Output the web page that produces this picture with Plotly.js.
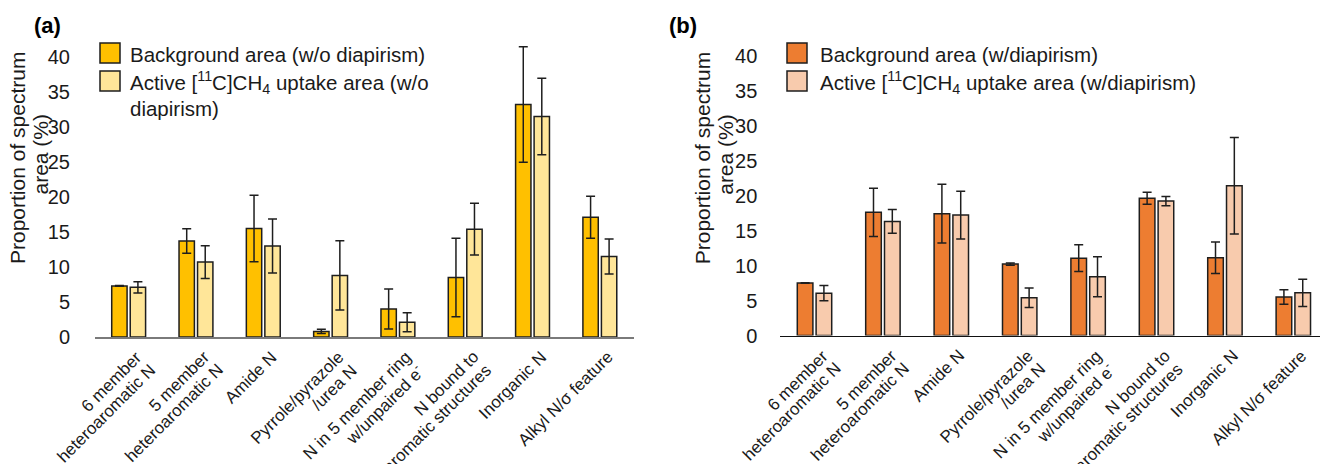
<!DOCTYPE html>
<html>
<head>
<meta charset="utf-8">
<script src="https://cdn.plot.ly/plotly-3.0.1.min.js"></script>
<style>html,body{margin:0;padding:0;background:#fff;}#chart{width:1320px;height:464px;}</style>
</head>
<body>
<div id="chart"></div>
<script>
// ---- data ----
const categories = [
  "6 member<br>heteroaromatic N",
  "5 member<br>heteroaromatic N",
  "Amide N",
  "Pyrrole/pyrazole<br>/urea N",
  "N in 5 member ring<br>w/unpaired e<sup>-</sup>",
  "N bound to<br>aromatic structures",
  "Inorganic N",
  "Alkyl N/σ feature"
];
const yTickVals = [0, 5, 10, 15, 20, 25, 30, 35, 40];

const aBackground    = [7.3, 13.7, 15.5, 0.8, 4.0, 8.5, 33.2, 17.1];
const aBackgroundErr = [0.05, 1.75, 4.75, 0.3, 2.85, 5.6, 8.25, 3.0];
const aActive        = [7.1, 10.7, 13.0, 8.8, 2.1, 15.4, 31.5, 11.5];
const aActiveErr     = [0.8, 2.35, 3.85, 4.95, 1.35, 3.7, 5.45, 2.5];

const bBackground    = [7.5, 17.6, 17.4, 10.2, 11.05, 19.6, 11.1, 5.5];
const bBackgroundErr = [0.05, 3.45, 4.2, 0.15, 1.9, 0.85, 2.25, 1.05];
const bActive        = [6.05, 16.3, 17.2, 5.4, 8.4, 19.2, 21.4, 6.1];
const bActiveErr     = [1.1, 1.7, 3.4, 1.4, 2.85, 0.65, 6.9, 1.95];

const legendA = ["Background area (w/o diapirism)",
                 "Active [<sup>11</sup>C]CH<sub>4</sub> uptake area (w/o", "diapirism)"];
const legendB = ["Background area (w/diapirism)",
                 "Active [<sup>11</sup>C]CH<sub>4</sub> uptake area (w/diapirism)"];
const yTitleLines = ["Proportion of spectrum", "area (%)"];

// ---- styles ----
const W = 1320, H = 464;
const FONT = "Liberation Sans, Arial, sans-serif";
const TXT = "#1a1a1a";
const colA1 = "#FFC000", colA2 = "#FFE699", colB1 = "#ED7D31", colB2 = "#F8CBAD";
const edge = {color: "#1e1e1e", width: 1.5};
const idx = categories.map((_, i) => i);

function barTrace(y, err, color, xa, ya, name) {
  return {
    type: "bar", x: idx, y: y, name: name, xaxis: xa, yaxis: ya,
    marker: {color: color, line: edge},
    error_y: {type: "data", array: err, visible: true, color: "#1e1e1e", thickness: 1.5, width: 4.5},
    showlegend: false, cliponaxis: false, hoverinfo: "y"
  };
}

const data = [
  barTrace(aBackground, aBackgroundErr, colA1, "x", "y", "bgA"),
  barTrace(aActive, aActiveErr, colA2, "x", "y", "actA"),
  barTrace(bBackground, bBackgroundErr, colB1, "x2", "y2", "bgB"),
  barTrace(bActive, bActiveErr, colB2, "x2", "y2", "actB")
];

const px = v => v / W;
const py = v => 1 - v / H;

const yBase = {
  range: [0, 43], tickvals: yTickVals, ticktext: yTickVals.map(String),
  showgrid: false, zeroline: false, showline: false,
  ticks: "outside", tickcolor: "rgba(0,0,0,0)",
  tickfont: {family: FONT, size: 20, color: TXT}, fixedrange: true
};
const xBase = {
  showgrid: false, zeroline: false, showline: true, linewidth: 1.5,
  showticklabels: false, ticks: "", fixedrange: true
};

const axA = {left: 95, y0: 337};
const axB = {left: 780.3, y0: 335.5};

const layout = {
  width: W, height: H,
  margin: {l: 0, r: 0, t: 0, b: 0, pad: 0},
  paper_bgcolor: "#fff", plot_bgcolor: "rgba(0,0,0,0)",
  barmode: "group", bargap: 0.45, bargroupgap: 0.17,
  font: {family: FONT, color: TXT},
  xaxis: Object.assign({}, xBase, {domain: [px(axA.left), px(633.5)], range: [-0.5, 7.5], linecolor: "#7a7a7a", anchor: "y"}),
  yaxis: Object.assign({}, yBase, {domain: [(H - axA.y0) / H, (H - 36) / H], anchor: "x", ticklen: 20}),
  xaxis2: Object.assign({}, xBase, {domain: [px(axB.left), 1], range: [-0.5, 7.39], linecolor: "#111", anchor: "y2"}),
  yaxis2: Object.assign({}, yBase, {domain: [(H - axB.y0) / H, (H - 34.5) / H], anchor: "x2", ticklen: 18}),
  shapes: [],
  annotations: []
};

function swatch(x0, yTop, color) {
  layout.shapes.push({type: "rect", xref: "paper", yref: "paper",
    x0: px(x0), x1: px(x0 + 20), y0: py(yTop + 20), y1: py(yTop),
    fillcolor: color, line: {color: "#1e1e1e", width: 1.5}});
}
function text(t, x, y, opts) {
  layout.annotations.push(Object.assign({
    text: t, xref: "paper", yref: "paper", x: px(x), y: py(y),
    showarrow: false, xanchor: "left", yanchor: "middle",
    font: {family: FONT, size: 20.5, color: TXT}
  }, opts || {}));
}

// legends
swatch(100, 43, colA1); swatch(100, 71, colA2);
text(legendA[0], 128, 54.5);
text(legendA[1], 128, 82.5);
text(legendA[2], 128, 108.5);
swatch(787, 43, colB1); swatch(787, 71, colB2);
text(legendB[0], 818, 54.5);
text(legendB[1], 818, 82.5);

// panel labels
text("<b>(a)</b>", 32, 26, {font: {family: FONT, size: 22, color: "#000"}});
text("<b>(b)</b>", 667, 26, {font: {family: FONT, size: 22, color: "#000"}});

// y-axis titles (two tight lines)
[axA, axB].forEach(ax => {
  text(yTitleLines[0], ax.left - 77, 158, {xanchor: "center", textangle: -90, font: {family: FONT, size: 21, color: TXT}});
  text(yTitleLines[1], ax.left - 55.5, 154, {xanchor: "center", textangle: -90, font: {family: FONT, size: 21, color: TXT}});
});

// category labels, rotated -45, right-aligned lines
const XF = 17;
const k = XF / 18;
categories.forEach((c, i) => {
  const lines = c.split("<br>");
  [["x", axA.y0], ["x2", axB.y0]].forEach(([xr, yb]) => {
    lines.forEach((ln, j) => {
      // glyph end of line j placed at tick + (8 + 13 j, 11 + 13 j)
      const ex = 8 + 13 * j, ey = 11 + 13 * j;
      layout.annotations.push({
        text: ln, xref: xr, yref: "paper", x: i, y: py(yb + ey - 3.4 * k),
        xshift: ex + 12.8 * k,
        showarrow: false, xanchor: "right", yanchor: "top", textangle: -45,
        font: {family: FONT, size: XF, color: TXT}
      });
    });
  });
});

Plotly.newPlot("chart", data, layout, {displayModeBar: false, staticPlot: true});
</script>
</body>
</html>
